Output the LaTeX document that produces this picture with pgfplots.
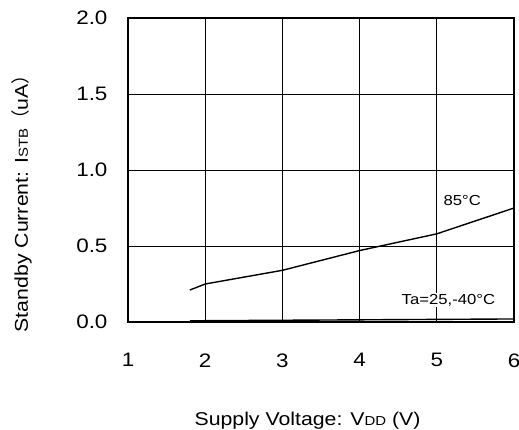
\documentclass[border=0pt]{standalone}
\usepackage{fontspec}
\setmainfont{Liberation Sans}[FakeStretch=1.15]
\newfontfamily\cjk{Noto Sans CJK SC}
\usepackage{pgfplots}
\pgfplotsset{compat=1.18}
\begin{document}
\begin{tikzpicture}[x=1pt,y=1pt]
\useasboundingbox (0,0) rectangle (519,430);
\begin{axis}[
  at={(128pt,108pt)}, anchor=south west,
  scale only axis, width=386pt, height=304pt,
  xmin=1, xmax=6, ymin=0, ymax=2,
  xtick={1,2,3,4,5,6}, ytick={0,0.5,1,1.5,2},
  yticklabel style={/pgf/number format/fixed, /pgf/number format/fixed zerofill, /pgf/number format/precision=1, xshift=-17pt},
  /pgf/number format/assume math mode=true,
  tick label style={font=\fontsize{19.5}{22}\selectfont},
  xticklabel style={yshift=-28pt},
  grid=major, major grid style={black, line width=0.8pt},
  major tick length=0pt,
  axis line style={black, line width=1.4pt},
  clip=false,
]
\addplot[black, line width=1.4pt] coordinates {(1.8,0.21) (2,0.25) (3,0.34) (4,0.47) (5,0.58) (6,0.75)};
\addplot[black, line width=1.4pt] coordinates {(1.8,0.008) (6,0.02)};
\node[fill=white, inner sep=1pt, font=\fontsize{14.5}{16}\selectfont] at (axis cs:5.33,0.80) {85\textdegree C};
\node[fill=white, inner sep=1pt, font=\fontsize{14.5}{16}\selectfont] at (axis cs:5.15,0.145) {Ta=25,-40\textdegree C};
\node[font=\fontsize{18.5}{20}\selectfont] at (rel axis cs:0.465,-0.325) {Supply Voltage: V{\fontsize{13}{14}\selectfont DD} (V)};
\node[rotate=90, font=\fontsize{18.5}{20}\selectfont] at ([xshift=-106pt]rel axis cs:0,0.405) {Standby Current: I{\fontsize{13}{14}\selectfont STB}{\cjk （}uA{\cjk ）}};
\end{axis}
\end{tikzpicture}
\end{document}
